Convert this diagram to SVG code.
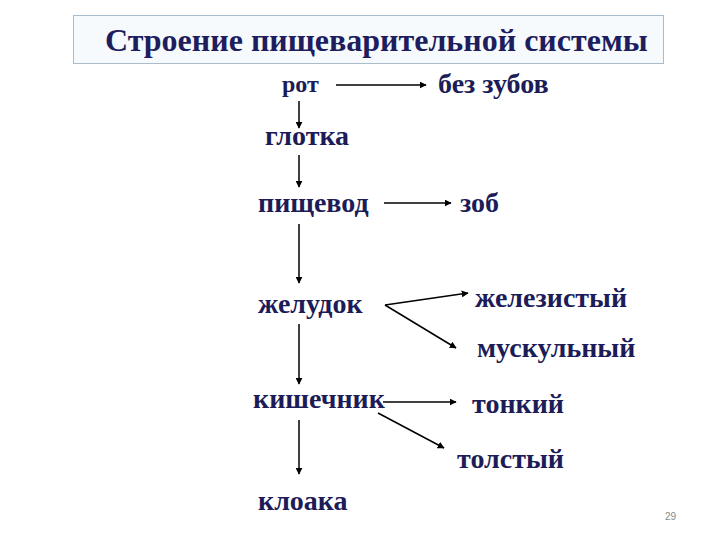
<svg xmlns="http://www.w3.org/2000/svg" width="720" height="540" viewBox="0 0 720 540">
<defs>
<marker id="ah" viewBox="0 0 10 10" refX="9" refY="5" markerWidth="7" markerHeight="7" markerUnits="userSpaceOnUse" orient="auto">
<path d="M0,0 L10,5 L0,10 z" fill="#000"/>
</marker>
<style>
.t{font-family:"Liberation Serif","Times New Roman",serif;fill:#1c1c58;font-size:28px;font-weight:bold}
.c{stroke:#000;stroke-width:1.5;fill:none;marker-end:url(#ah)}
</style>
</defs>
<rect width="720" height="540" fill="#fff"/>
<g id="title">
<rect x="73.5" y="15.5" width="590" height="48" fill="#f7fafd" stroke="#a9bccb" stroke-width="1"/>
<text x="105" y="51" class="t" style="font-size:32px;fill:#1e1e5e">Строение пищеварительной системы</text>
</g>
<g id="connectors">
<line class="c" x1="336" y1="85" x2="426" y2="85"/>
<line class="c" x1="299" y1="101" x2="299" y2="128"/>
<line class="c" x1="299" y1="155" x2="299" y2="187"/>
<line class="c" x1="384" y1="203" x2="451" y2="203"/>
<line class="c" x1="299" y1="224" x2="299" y2="283"/>
<line class="c" x1="385" y1="305" x2="468" y2="293"/>
<line class="c" x1="385" y1="305" x2="456" y2="348"/>
<line class="c" x1="299" y1="324" x2="299" y2="384"/>
<line class="c" x1="383" y1="402" x2="456" y2="402"/>
<line class="c" x1="378" y1="413" x2="444" y2="448"/>
<line class="c" x1="299" y1="420" x2="299" y2="474"/>
</g>
<g id="rot"><text x="282" y="92" class="t" style="font-size:24px">рот</text></g>
<g id="bez-zubov"><text x="438" y="93" class="t" style="font-size:28px">без зубов</text></g>
<g id="glotka"><text x="265" y="145" class="t">глотка</text></g>
<g id="pishchevod"><text x="258" y="212" class="t">пищевод</text></g>
<g id="zob"><text x="460" y="212" class="t">зоб</text></g>
<g id="zheludok"><text x="258" y="313" class="t">желудок</text></g>
<g id="zhelezisty"><text x="475" y="307" class="t">железистый</text></g>
<g id="muskulny"><text x="477" y="357" class="t">мускульный</text></g>
<g id="kishechnik"><text x="253" y="408" class="t">кишечник</text></g>
<g id="tonky"><text x="472" y="413" class="t">тонкий</text></g>
<g id="tolsty"><text x="457" y="468" class="t">толстый</text></g>
<g id="kloaka"><text x="258" y="510" class="t">клоака</text></g>
<text x="665" y="520" style="font-family:'Liberation Sans',Arial,sans-serif;font-size:10px;fill:#888">29</text>
</svg>
